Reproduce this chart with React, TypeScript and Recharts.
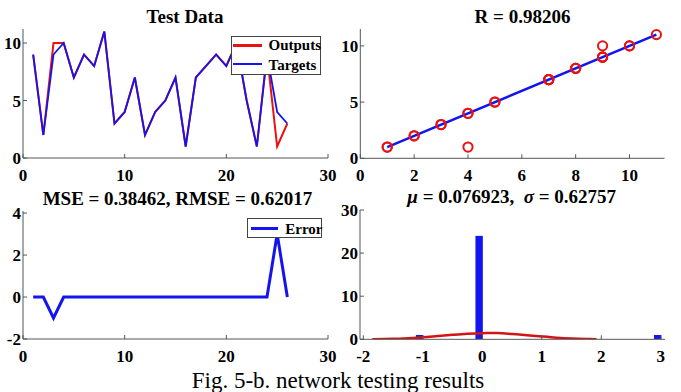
import React from 'react'
import { ComposedChart, Line, Scatter, Bar, XAxis, YAxis } from 'recharts'

// sample index 1..26, network targets and outputs
const sampleIdx = [1, 2, 3, 4, 5, 6, 7, 8, 9, 10, 11, 12, 13, 14, 15, 16, 17, 18, 19, 20, 21, 22, 23, 24, 25, 26]
const targets = [9, 2, 9, 10, 7, 9, 8, 11, 3, 4, 7, 2, 4, 5, 7, 1, 7, 8, 9, 8, 10, 5, 1, 9, 4, 3]
const outputs = [9, 2, 10, 10, 7, 9, 8, 11, 3, 4, 7, 2, 4, 5, 7, 1, 7, 8, 9, 8, 10, 5, 1, 9, 1, 3]

// regression line end points (R plot)
const regX = [1, 11]
const regY = [1, 11]

// error histogram
const binCenters = [-1.05, -0.05, 2.95]
const binCounts = [1, 24, 1]

// fitted normal curve
const fitX = [-1.85, -1.5, -1.25, -1, -0.75, -0.5, -0.25, 0, 0.25, 0.5, 0.75, 1, 1.25, 1.5, 1.75, 1.92]
const fitY = [0.02, 0.1, 0.25, 0.45, 0.75, 1.05, 1.3, 1.43, 1.45, 1.25, 0.95, 0.65, 0.38, 0.18, 0.07, 0.03]

const RED = '#e81212'
const BLUE = '#1414ee'
const serif = '"Liberation Serif", "Times New Roman", serif'
const tickStyle = { fill: '#000', fontSize: 17, fontWeight: 700, fontFamily: serif }
const boxLine = { stroke: '#555', strokeWidth: 1 }
const blank = () => <g />

const testRows = sampleIdx.map((i, k) => ({ x: i, t: targets[k], o: outputs[k] }))
const errRows = sampleIdx.map((i, k) => ({ x: i, e: targets[k] - outputs[k] }))
const scatterRows = targets.map((t, k) => ({ x: t, y: outputs[k] }))
const regRows = regX.map((x, k) => ({ x, y: regY[k] }))
const histRows = binCenters.map((x, k) => ({ x, count: binCounts[k] }))
const fitRows = fitX.map((x, k) => ({ x, fit: fitY[k] }))

const Title: React.FC<{ cx: number; top: number; children: React.ReactNode }> = ({ cx, top, children }) => (
  <div
    style={{
      position: 'absolute',
      left: cx - 200,
      top,
      width: 400,
      textAlign: 'center',
      fontSize: 19,
      lineHeight: '19px',
      fontWeight: 700,
      whiteSpace: 'pre',
    }}
  >
    {children}
  </div>
)

// histogram bar: fixed 7px wide, centred on the bin
const HistBar = (p: any) => {
  if (!p.height) return <g />
  return <rect x={p.x + p.width / 2 - 3.7} y={p.y} width={7.4} height={p.height} fill={BLUE} />
}

// four-sided box with inward ticks, like a matlab axes
const boxAxes = (xDom: number[], xTicks: number[], yDom: number[], yTicks: number[], yW: number) => [
  <XAxis key="xb" xAxisId="b" type="number" dataKey="x" domain={xDom} ticks={xTicks} allowDataOverflow
    interval={0} height={20} tickSize={-4} tickMargin={15} axisLine={boxLine} tickLine={boxLine} tick={tickStyle} />,
  <XAxis key="xt" xAxisId="t" type="number" dataKey="x" orientation="top" mirror domain={xDom} ticks={xTicks}
    allowDataOverflow interval={0} height={0} tickSize={4} axisLine={boxLine} tickLine={boxLine} tick={blank} />,
  <YAxis key="yl" yAxisId="l" type="number" domain={yDom} ticks={yTicks} allowDataOverflow interval={0}
    width={yW} tickSize={-4} tickMargin={6} axisLine={boxLine} tickLine={boxLine} tick={tickStyle} />,
  <YAxis key="yr" yAxisId="r" type="number" orientation="right" mirror domain={yDom} ticks={yTicks}
    allowDataOverflow interval={0} width={0} tickSize={4} axisLine={boxLine} tickLine={boxLine} tick={blank} />,
]

export default function App() {
  return (
    <div
      style={{
        position: 'absolute',
        left: 0,
        top: 0,
        width: 681,
        height: 392,
        background: '#fff',
        fontFamily: serif,
        color: '#000',
        overflow: 'hidden',
      }}
    >
      {/* Test Data */}
      <div style={{ position: 'absolute', left: 0, top: 0 }}>
        <ComposedChart width={340} height={185} data={testRows} margin={{ top: 29, right: 12, bottom: 7, left: 0 }}>
          {boxAxes([0, 30], [0, 10, 20, 30], [0, 11.22], [0, 5, 10], 23)}
          <Line xAxisId="b" yAxisId="l" dataKey="o" stroke={RED} strokeWidth={2} dot={false} isAnimationActive={false} />
          <Line xAxisId="b" yAxisId="l" dataKey="t" stroke={BLUE} strokeWidth={1.8} dot={false} isAnimationActive={false} />
        </ComposedChart>
      </div>
      <div style={{ position: 'absolute', left: 230.5, top: 36, width: 90.5, height: 38.5, boxSizing: 'border-box',
        border: '1px solid #444', background: '#fff' }}>
        <div style={{ position: 'absolute', left: 1, top: 7, width: 29, height: 3, background: RED }} />
        <div style={{ position: 'absolute', left: 1, top: 26, width: 29, height: 2, background: BLUE }} />
        <div style={{ position: 'absolute', left: 37, top: 0.5, fontSize: 15, lineHeight: '15px', fontWeight: 700 }}>Outputs</div>
        <div style={{ position: 'absolute', left: 37, top: 20.5, fontSize: 15, lineHeight: '15px', fontWeight: 700 }}>Targets</div>
      </div>
      <Title cx={185} top={6.8}>Test Data</Title>

      {/* Regression */}
      <div style={{ position: 'absolute', left: 340, top: 0 }}>
        <ComposedChart width={341} height={185} margin={{ top: 29, right: 16.5, bottom: 6.7, left: 0 }}>
          {boxAxes([0, 11.3], [0, 2, 4, 6, 8, 10], [0, 11.5], [0, 5, 10], 20.3)}
          <Scatter xAxisId="b" yAxisId="l" data={scatterRows} dataKey="y" isAnimationActive={false}
            shape={(p: any) => <circle cx={p.cx} cy={p.cy} r={4.6} fill="none" stroke={RED} strokeWidth={2} />} />
          <Line xAxisId="b" yAxisId="l" data={regRows} dataKey="y" stroke={BLUE} strokeWidth={2.5} dot={false}
            isAnimationActive={false} />
        </ComposedChart>
      </div>
      <Title cx={522.5} top={6.8}>R = 0.98206</Title>

      {/* Error */}
      <div style={{ position: 'absolute', left: 0, top: 185 }}>
        <ComposedChart width={340} height={207} data={errRows} margin={{ top: 26, right: 12, bottom: 33, left: 0 }}>
          {boxAxes([0, 30], [0, 10, 20, 30], [-2, 4.1], [-2, 0, 2, 4], 23)}
          <Line xAxisId="b" yAxisId="l" dataKey="e" stroke={BLUE} strokeWidth={3} dot={false} isAnimationActive={false} />
        </ComposedChart>
      </div>
      <div style={{ position: 'absolute', left: 247.3, top: 218.3, width: 74.4, height: 19.6, boxSizing: 'border-box',
        border: '1px solid #444', background: '#fff' }}>
        <div style={{ position: 'absolute', left: 2.5, top: 7.5, width: 27, height: 3, background: BLUE }} />
        <div style={{ position: 'absolute', left: 37, top: 2.5, fontSize: 15, lineHeight: '15px', fontWeight: 700 }}>Error</div>
      </div>
      <Title cx={177.5} top={189}>MSE = 0.38462, RMSE = 0.62017</Title>

      {/* Histogram */}
      <div style={{ position: 'absolute', left: 340, top: 185 }}>
        <ComposedChart width={341} height={207} data={histRows} margin={{ top: 25, right: 16, bottom: 32.7, left: 0 }}>
          {boxAxes([-2.055, 3.07], [-2, -1, 0, 1, 2, 3], [0, 30], [0, 10, 20, 30], 20)}
          <Bar xAxisId="b" yAxisId="l" dataKey="count" fill={BLUE} shape={HistBar} isAnimationActive={false} />
          <Line xAxisId="b" yAxisId="l" data={fitRows} dataKey="fit" type="monotone" stroke="#d41414" strokeWidth={2.5}
            dot={false} isAnimationActive={false} />
        </ComposedChart>
      </div>
      <Title cx={511.7} top={187.4}>
        <i>μ</i> = 0.076923,  <i>σ</i> = 0.62757
      </Title>

      <div style={{ position: 'absolute', left: 88, top: 369, width: 500, textAlign: 'center', fontSize: 23,
        lineHeight: '23px' }}>
        Fig. 5-b. network testing results
      </div>
    </div>
  )
}
